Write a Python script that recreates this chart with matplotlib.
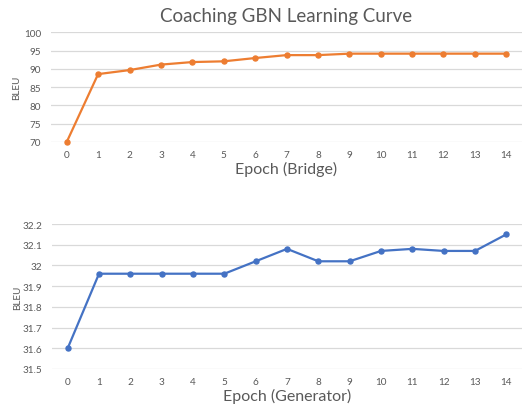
import matplotlib
matplotlib.use("Agg")
import matplotlib.pyplot as plt

plt.rcParams['font.family'] = ['Lato', 'DejaVu Sans']

epochs = list(range(15))
bridge_bleu = [70.0, 88.6, 89.7, 91.2, 91.9, 92.1, 93.0, 93.8, 93.8, 94.2,
               94.2, 94.2, 94.2, 94.2, 94.2]
generator_bleu = [31.60, 31.96, 31.96, 31.96, 31.96, 31.96, 32.02, 32.08,
                  32.02, 32.02, 32.07, 32.08, 32.07, 32.07, 32.15]
bridge_ticks = [70, 75, 80, 85, 90, 95, 100]
generator_ticks = [31.5, 31.6, 31.7, 31.8, 31.9, 32.0, 32.1, 32.2]
generator_labels = ['31.5', '31.6', '31.7', '31.8', '31.9', '32', '32.1', '32.2']

txt = '#595959'
grid = '#D9D9D9'

fig = plt.figure(figsize=(5.27, 4.14), dpi=100)
ax1 = fig.add_axes([0.0968, 0.6546, 0.8937, 0.2645])
ax2 = fig.add_axes([0.0987, 0.1063, 0.8918, 0.3502])


def style(ax, ticks, labels, ylim, xlabel):
    ax.set_xlim(-0.5, 14.5)
    ax.set_ylim(*ylim)
    ax.set_yticks(ticks)
    ax.set_yticklabels(labels)
    ax.set_xticks(epochs)
    ax.grid(axis='y', color=grid, linewidth=0.9)
    ax.set_axisbelow(True)
    for s in ax.spines.values():
        s.set_visible(False)
    ax.tick_params(length=0, labelsize=7.2, labelcolor=txt)
    ax.tick_params(axis='x', pad=6)
    ax.tick_params(axis='y', pad=7)
    ax.set_ylabel('BLEU', fontsize=7.2, color=txt)
    ax.yaxis.set_label_coords(-0.064, 0.5)
    ax.set_xlabel(xlabel, fontsize=11.5, color=txt, labelpad=1)


ax1.plot(epochs, bridge_bleu, color='#ED7D31', linewidth=1.6,
         marker='o', markersize=3.6, clip_on=False)
style(ax1, bridge_ticks, [str(t) for t in bridge_ticks], (70, 100),
      'Epoch (Bridge)')
ax1.set_title('Coaching GBN Learning Curve', fontsize=13.5, color=txt, pad=8)

ax2.plot(epochs, generator_bleu, color='#4472C4', linewidth=1.6,
         marker='o', markersize=3.6, clip_on=False)
style(ax2, generator_ticks, generator_labels, (31.5, 32.2),
      'Epoch (Generator)')

fig.savefig('out.png', dpi=100)
